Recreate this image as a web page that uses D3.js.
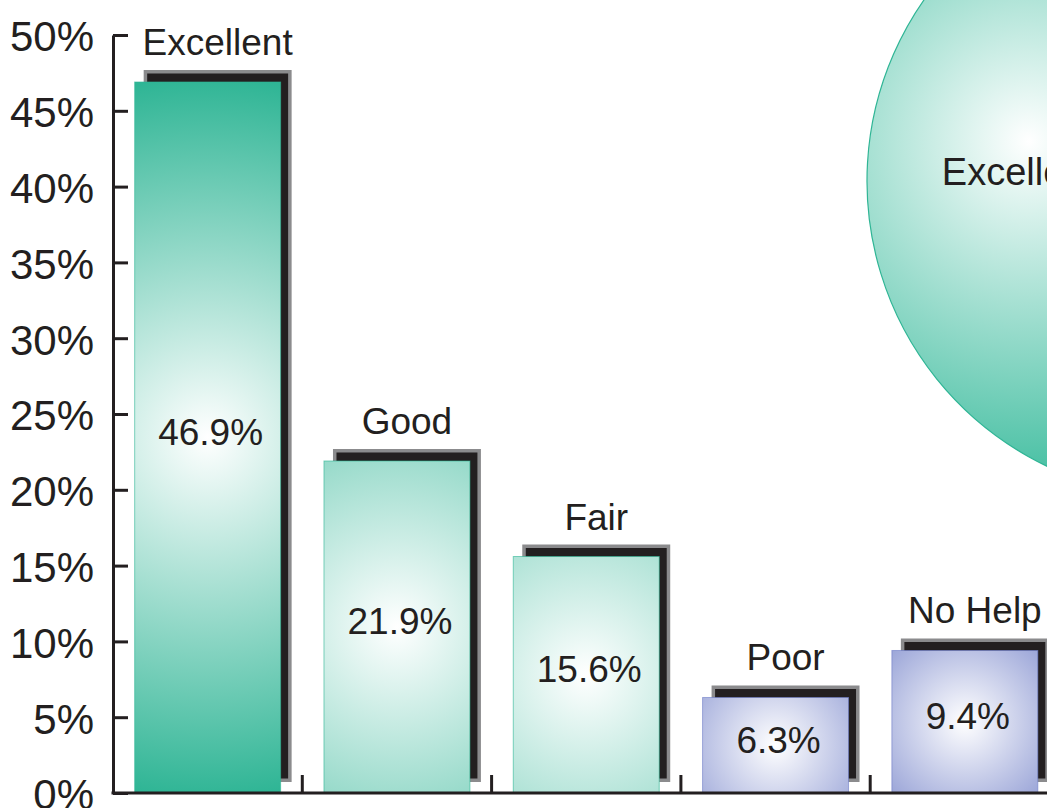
<!DOCTYPE html>
<html>
<head>
<meta charset="utf-8">
<script src="https://cdn.jsdelivr.net/npm/d3@7"></script>
<style>
  html, body { margin: 0; padding: 0; background: #ffffff; overflow: hidden; }
  svg { display: block; }
  text { font-family: "Liberation Sans", Arial, Helvetica, sans-serif; fill: #231f20; }
</style>
</head>
<body>
<svg id="chart" width="1047" height="808"></svg>
<script>
// Ratings of the help received, share of respondents (%)
const categories = ["Excellent", "Good", "Fair", "Poor", "No Help"];
const shares = [46.9, 21.9, 15.6, 6.3, 9.4];
const yTickValues = [0, 5, 10, 15, 20, 25, 30, 35, 40, 45, 50];
const valueLabels = ["46.9%", "21.9%", "15.6%", "6.3%", "9.4%"];

// Colour family per category: teal for positive ratings, blue for the rest
const families = ["teal", "teal", "teal", "blue", "blue"];
const familyStyle = {
  teal: { edge: "#2fb595", pieEdge: "#45bfa2", radius: 360 },
  blue: { edge: "#6d7cc6", pieEdge: "#7d8bcc", radius: 150 }
};

const W = 1047, H = 808;
const plot = { left: 113, top: 35, bottom: 793, step: 189.3 };
const ink = "#231f20";

const svg = d3.select("#chart");
const defs = svg.append("defs");

const x = d3.scaleBand()
  .domain(categories)
  .range([plot.left, plot.left + plot.step * categories.length])
  .paddingInner(0.229)
  .paddingOuter(0.1145);

const y = d3.scaleLinear().domain([0, 50]).range([plot.bottom, plot.top]);

const data = categories.map((c, i) => ({ cat: c, value: shares[i], label: valueLabels[i], fam: families[i], i }));

// ---- Pie (mostly beyond the right edge of the drawing) ----
const pieCx = 1183, pieCy = 181, pieR = 316;
const pie = d3.pie().sort(null).value(d => d.value)
  .startAngle(189 * Math.PI / 180).endAngle((189 + 360) * Math.PI / 180);
const arcs = pie(data);
const arc = d3.arc().innerRadius(0).outerRadius(pieR);
const labelArc = d3.arc().innerRadius(pieR * 0.52).outerRadius(pieR * 0.52);

const pieG = svg.append("g").attr("transform", `translate(${pieCx},${pieCy})`);
arcs.forEach((a, k) => {
  const st = familyStyle[a.data.fam];
  const c = labelArc.centroid(a);
  const g = defs.append("radialGradient")
    .attr("id", "pieGrad" + k)
    .attr("gradientUnits", "userSpaceOnUse")
    .attr("cx", c[0] + 10).attr("cy", c[1] - 30).attr("r", 340);
  g.append("stop").attr("offset", 0).attr("stop-color", "#ffffff");
  g.append("stop").attr("offset", 1).attr("stop-color", st.pieEdge);
});
pieG.selectAll("path.slice")
  .data(arcs)
  .join("path")
  .attr("class", "slice")
  .attr("d", arc)
  .attr("fill", (d, k) => `url(#pieGrad${k})`)
  .attr("stroke", d => familyStyle[d.data.fam].edge)
  .attr("stroke-width", 1.2);
// only slices whose label anchor falls inside the drawing get a label
pieG.selectAll("text.slice-label")
  .data(arcs.filter(d => pieCx + labelArc.centroid(d)[0] < W))
  .join("text")
  .attr("class", "slice-label")
  .attr("x", d => labelArc.centroid(d)[0])
  .attr("y", d => labelArc.centroid(d)[1])
  .attr("dy", "0.35em")
  .attr("text-anchor", "middle")
  .attr("font-size", 38)
  .text(d => d.data.cat);

// ---- Bar gradients (radial, white core) ----
data.forEach(d => {
  const st = familyStyle[d.fam];
  const cx = x(d.cat) + x.bandwidth() / 2;
  const cy = (y(d.value) + y(0)) / 2;
  const g = defs.append("radialGradient")
    .attr("id", "barGrad" + d.i)
    .attr("gradientUnits", "userSpaceOnUse")
    .attr("cx", cx).attr("cy", cy).attr("r", st.radius);
  g.append("stop").attr("offset", 0).attr("stop-color", "#ffffff");
  g.append("stop").attr("offset", 1).attr("stop-color", st.edge);
});

// ---- Bar shadows: grey-rimmed black block, offset up and to the right ----
const shadowDx = 9, shadowDy = -12, shadowGap = 11;
const shadows = svg.append("g");
shadows.selectAll("rect.rim")
  .data(data)
  .join("rect")
  .attr("class", "rim")
  .attr("x", d => x(d.cat) + shadowDx)
  .attr("y", d => y(d.value) + shadowDy)
  .attr("width", x.bandwidth() + 2)
  .attr("height", d => y(0) - shadowGap - (y(d.value) + shadowDy))
  .attr("fill", "#8b8b8d");
shadows.selectAll("rect.block")
  .data(data)
  .join("rect")
  .attr("class", "block")
  .attr("x", d => x(d.cat) + shadowDx + 3.5)
  .attr("y", d => y(d.value) + shadowDy + 3.5)
  .attr("width", x.bandwidth() + 2 - 7)
  .attr("height", d => y(0) - shadowGap - (y(d.value) + shadowDy) - 7)
  .attr("fill", ink);

// ---- Bars ----
svg.append("g").selectAll("rect.bar")
  .data(data)
  .join("rect")
  .attr("class", "bar")
  .attr("x", d => x(d.cat))
  .attr("y", d => y(d.value))
  .attr("width", x.bandwidth())
  .attr("height", d => y(0) - y(d.value))
  .attr("fill", d => `url(#barGrad${d.i})`)
  .attr("stroke", d => familyStyle[d.fam].edge)
  .attr("stroke-opacity", 0.6)
  .attr("stroke-width", 1);

// ---- Value labels inside bars ----
svg.append("g").selectAll("text.value")
  .data(data)
  .join("text")
  .attr("class", "value")
  .attr("x", d => x(d.cat) + x.bandwidth() / 2 + 3)
  .attr("y", d => (y(d.value) + y(0)) / 2)
  .attr("dy", "0.2em")
  .attr("text-anchor", "middle")
  .attr("font-size", 37)
  .text(d => d.label);

// ---- Category labels above the shadows ----
svg.append("g").selectAll("text.cat")
  .data(data)
  .join("text")
  .attr("class", "cat")
  .attr("x", d => x(d.cat) + x.bandwidth() / 2 + shadowDx + 1)
  .attr("y", d => y(d.value) + shadowDy - 15)
  .attr("text-anchor", "middle")
  .attr("font-size", 37)
  .text(d => d.cat);

// ---- Y axis: ticks point inward, labels on the left ----
const yAxis = d3.axisLeft(y)
  .tickValues(yTickValues)
  .tickFormat(d => d + "%")
  .tickSizeInner(-15)
  .tickSizeOuter(0)
  .tickPadding(19);
const yg = svg.append("g").attr("transform", `translate(${plot.left},0)`).call(yAxis);
yg.select(".domain").attr("stroke", ink).attr("stroke-width", 3);
yg.selectAll(".tick line").attr("stroke", ink).attr("stroke-width", 3);
yg.selectAll(".tick text")
  .attr("font-size", 42)
  .attr("font-family", "'Liberation Sans', Arial, Helvetica, sans-serif")
  .attr("fill", ink)
  .attr("dy", "0.38em");

// ---- X axis: baseline with upward separators between categories ----
const xg = svg.append("g");
xg.append("line")
  .attr("x1", plot.left - 1.5).attr("x2", W + 20)
  .attr("y1", y(0)).attr("y2", y(0))
  .attr("stroke", ink).attr("stroke-width", 3);
const boundaries = categories.slice(1).map(c => x(c) - x.step() * x.paddingInner() / 2);
xg.selectAll("line.sep")
  .data(boundaries)
  .join("line")
  .attr("class", "sep")
  .attr("x1", d => d).attr("x2", d => d)
  .attr("y1", y(0)).attr("y2", y(0) - 18)
  .attr("stroke", ink).attr("stroke-width", 3);
</script>
</body>
</html>
